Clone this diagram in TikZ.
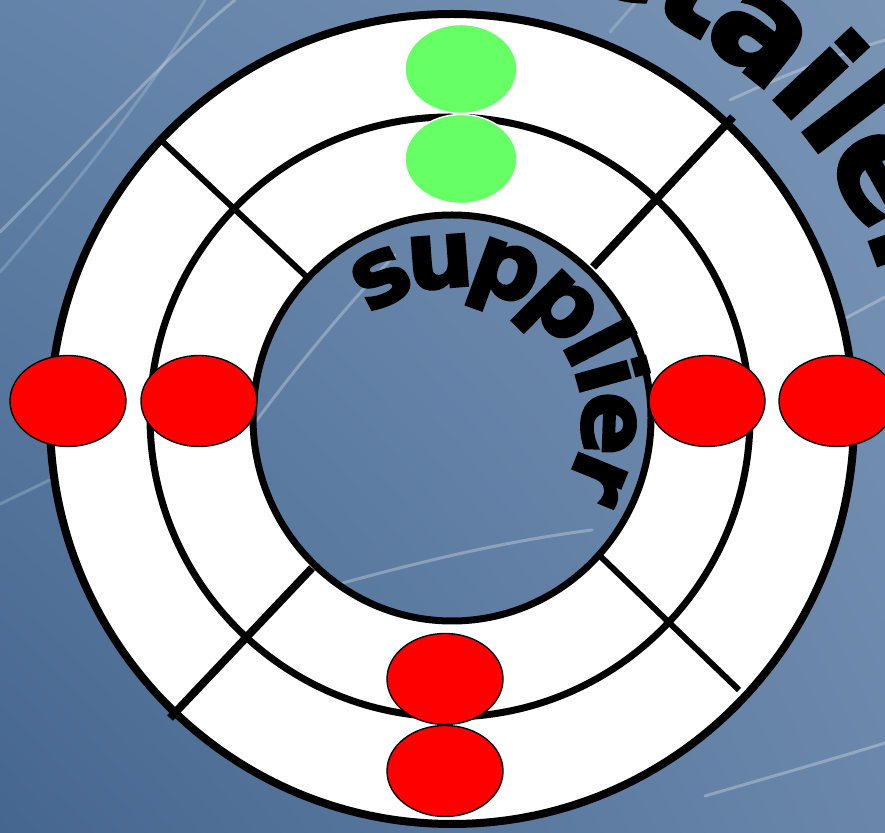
\documentclass[tikz,border=0pt]{standalone}
\usepackage{fontspec}
\usetikzlibrary{shapes.geometric,decorations.text,shadings}
\newfontfamily\heavy{DejaVu Sans Bold}[FakeBold=3]
\definecolor{bgul}{HTML}{6483A8}
\definecolor{bgur}{HTML}{7893B4}
\definecolor{bgll}{HTML}{45668F}
\definecolor{bglr}{HTML}{6A87AB}
\definecolor{lgreen}{HTML}{66FF66}
\begin{document}
\begin{tikzpicture}[x=1pt,y=1pt,
  redoval/.style={ellipse,draw=black,line width=1.4pt,fill=red,minimum width=116pt,minimum height=91pt,inner sep=0pt},
  greenoval/.style={ellipse,draw=white,line width=1.4pt,fill=lgreen,minimum width=112pt,minimum height=89pt,inner sep=0pt},
  streak/.style={white,opacity=0.28,line width=3pt,line cap=round},
  ringline/.style={black,line width=7pt},
  spoke/.style={black,line cap=butt}]
\useasboundingbox (0,0) rectangle (885,832);
\clip (0,0) rectangle (885,832);
% background
\shade[upper left=bgul,upper right=bgur,lower left=bgll,lower right=bglr] (0,0) rectangle (885,832);
% streaks
\draw[streak] (0,600) .. controls (90,690) and (170,780) .. (235,832);
\draw[streak,opacity=0.18] (0,560) .. controls (70,640) and (150,740) .. (205,832);
\draw[streak] (254,408) .. controls (300,470) and (350,530) .. (395,577);
\draw[streak] (339,248) .. controls (420,270) and (500,290) .. (592,302);
\draw[streak] (730,732) .. controls (780,755) and (830,775) .. (885,792);
\draw[streak] (705,36) .. controls (770,55) and (830,72) .. (885,89);
\draw[streak] (846,514) -- (885,535);
\draw[streak,opacity=0.2] (0,328) -- (56,355);
\draw[streak,opacity=0.2] (610,800) -- (638,832);
% white ring
\fill[white,even odd rule] (452,413) ellipse[x radius=402,y radius=405] (452,414) circle[radius=200];
% circles
\draw[ringline,line width=8pt] (452,413) ellipse[x radius=402,y radius=405];
\draw[ringline,line width=7pt] (450,415) circle[radius=300];
\draw[ringline,line width=7pt] (452,414) ellipse[x radius=199,y radius=203];
% spokes
\coordinate (ulin) at (310,552); \coordinate (ulout) at (163,690);
\coordinate (urin) at (593,565); \coordinate (urout) at (733,715);
\coordinate (llin) at (312,264); \coordinate (llout) at (170,114);
\coordinate (lrin) at (598,278); \coordinate (lrout) at (739,142);
\draw[spoke,line width=6pt] (ulin) -- (ulout);
\draw[spoke,line width=8pt] (urin) -- (urout);
\draw[spoke,line width=8pt] (llin) -- (llout);
\draw[spoke,line width=6pt] (lrin) -- (lrout);
% ovals
\node[greenoval] (g1) at (461,763) {};
\node[greenoval] (g2) at (461,673) {};
\node[redoval] (r1) at (68,431) {};
\node[redoval] (r2) at (199,431) {};
\node[redoval] (r3) at (707,431) {};
\node[redoval] (r4) at (837,431) {};
\node[redoval] (r5) at (445,153) {};
\node[redoval] (r6) at (445,61) {};
% curved texts
\path[decorate,decoration={text along path,text align=left,raise=-26pt,
  text={|\heavy\fontsize{94}{100}\selectfont|supplier}}]
  (452,414) ++(127:157) arc[start angle=127,end angle=-45,radius=157];
\path[decorate,decoration={text along path,text align=left,raise=-37pt,
  text={|\heavy\fontsize{137}{140}\selectfont|retailer}}]
  (452,414) ++(83:490) arc[start angle=83,end angle=0,radius=490];
\end{tikzpicture}
\end{document}
